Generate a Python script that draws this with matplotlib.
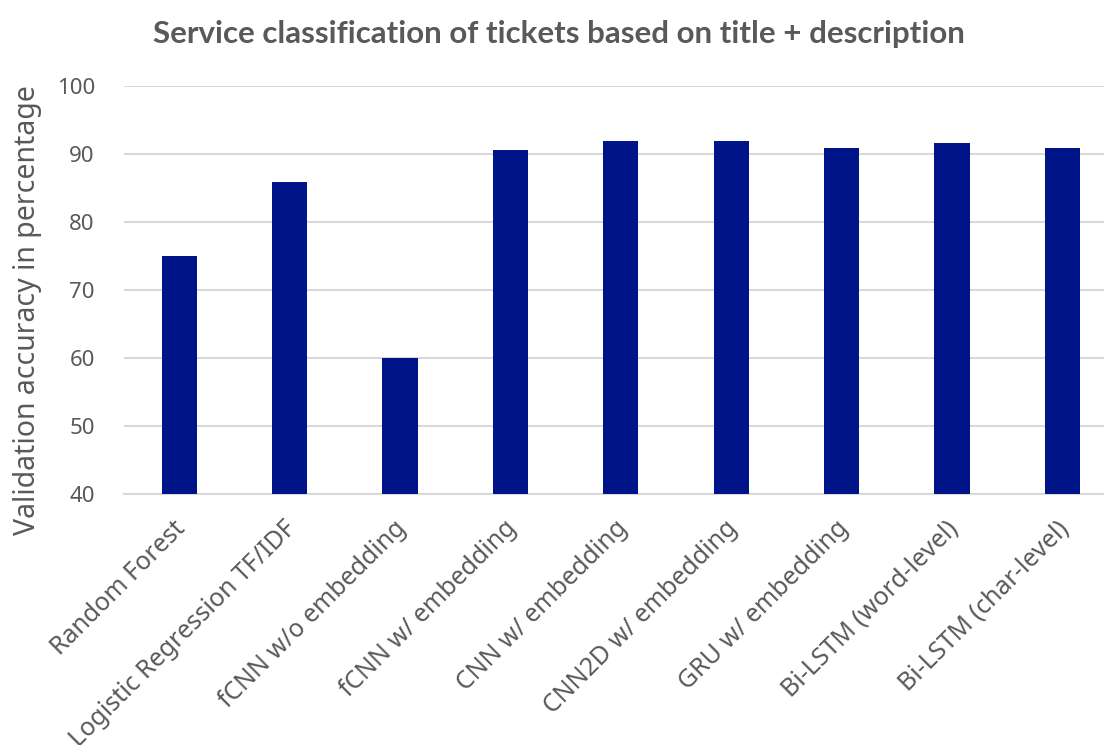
import matplotlib
matplotlib.use("Agg")
import matplotlib.pyplot as plt
from matplotlib.transforms import ScaledTranslation

models = [
    "Random Forest",
    "Logistic Regression TF/IDF",
    "fCNN w/o embedding",
    "fCNN w/ embedding",
    "CNN w/ embedding",
    "CNN2D w/ embedding",
    "GRU w/ embedding",
    "Bi-LSTM (word-level)",
    "Bi-LSTM (char-level)",
]
accuracy = [75.0, 86.0, 60.0, 90.6, 92.0, 92.0, 91.0, 91.7, 90.9]
y_ticks = [40, 50, 60, 70, 80, 90, 100]

plt.rcParams["font.family"] = ["Noto Sans", "DejaVu Sans"]
text_gray = "#595959"
grid_gray = "#D9D9D9"
bar_color = "#00148A"

fig = plt.figure(figsize=(11.04, 7.45), dpi=100)
ax = fig.add_axes([0.1123, 0.337, 0.9, 0.547])

x = list(range(len(models)))
ax.bar(x, accuracy, width=0.32, color=bar_color, zorder=3)

ax.set_ylim(40, 100)
ax.set_xlim(-0.5, 8.5)
ax.set_yticks(y_ticks)
ax.set_yticklabels([str(v) for v in y_ticks], fontsize=16, color=text_gray)
ax.set_xticks(x)
ax.set_xticklabels(models, rotation=45, ha="right", va="top",
                   rotation_mode="anchor", fontsize=18, color=text_gray)
ax.tick_params(axis="both", length=0)
ax.tick_params(axis="x", pad=16)
ax.tick_params(axis="y", pad=21)

# nudge the slanted category labels slightly to the left
shift = ScaledTranslation(-6 / 100, 0, fig.dpi_scale_trans)
for lbl in ax.get_xticklabels():
    lbl.set_transform(lbl.get_transform() + shift)

ax.grid(axis="y", color=grid_gray, linewidth=1.5, zorder=0)
for side in ["top", "right", "left"]:
    ax.spines[side].set_visible(False)
ax.spines["bottom"].set_color(grid_gray)
ax.spines["bottom"].set_linewidth(1.5)

ax.set_ylabel("Validation accuracy in percentage", fontsize=20.5,
              color=text_gray, va="center")
ax.yaxis.set_label_coords(-0.097, 0.452)

fig.text(0.506, 0.955, "Service classification of tickets based on title + description",
         ha="center", va="center", fontsize=22.5, fontweight="bold", color=text_gray,
         family=["Lato", "DejaVu Sans"])

fig.savefig("out.png", dpi=100)
